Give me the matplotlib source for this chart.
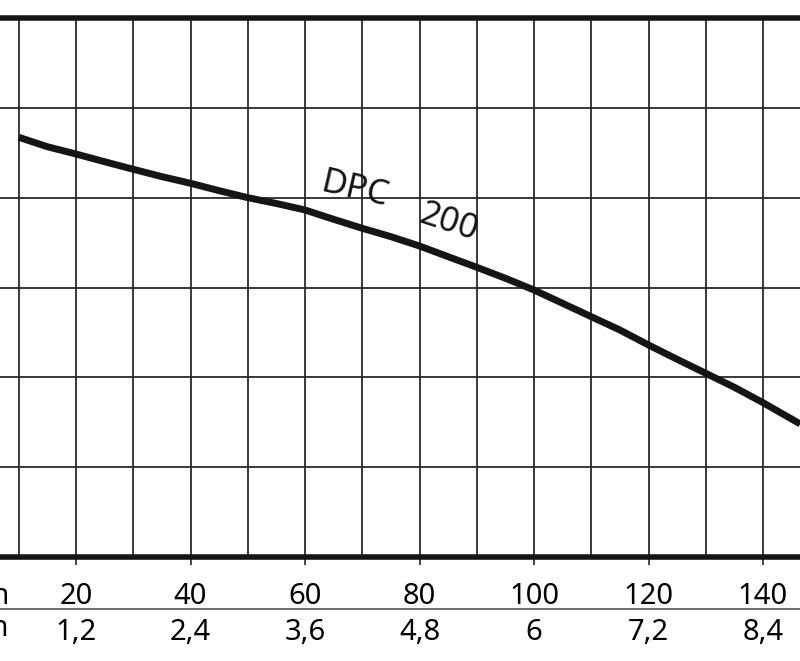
import matplotlib
matplotlib.use("Agg")
import matplotlib.pyplot as plt
from matplotlib.lines import Line2D

# ---- data ----
flow_lpm = [10, 15, 20, 25, 30, 35, 40, 45, 50, 55, 60, 65, 70, 75, 80, 85, 90, 95,
            100, 105, 110, 115, 120, 125, 130, 135, 140, 146.5]
head = [4.672, 4.567, 4.486, 4.400, 4.316, 4.234, 4.160, 4.078, 4.000, 3.935, 3.863,
        3.759, 3.659, 3.566, 3.462, 3.343, 3.225, 3.103, 2.972, 2.824, 2.675, 2.527,
        2.360, 2.201, 2.045, 1.889, 1.718, 1.481]

lpm_ticks = [20, 40, 60, 80, 100, 120, 140]
lpm_labels = ["20", "40", "60", "80", "100", "120", "140"]
m3h_ticks = [1.2, 2.4, 3.6, 4.8, 6.0, 7.2, 8.4]
m3h_labels = ["1,2", "2,4", "3,6", "4,8", "6", "7,2", "8,4"]
grid_x = list(range(10, 150, 10))
grid_y = [1, 2, 3, 4, 5]
curve_name = "DPC"
curve_model = "200"
unit_top = "l/min"
unit_bottom = "m³/h"

plt.rcParams['font.family'] = ['Noto Sans', 'DejaVu Sans']

W, H = 800, 661
fig = plt.figure(figsize=(W / 100, H / 100), dpi=100)
y_top_px, y_bot_px = 18, 557
ax = fig.add_axes([0, (H - y_bot_px) / H, 1, (y_bot_px - y_top_px) / H])

px_per_unit = 5.725
x_left = 20 - 76 / px_per_unit
x_right = 20 + (W - 76) / px_per_unit
ax.set_xlim(x_left, x_right)
ax.set_ylim(0, 6)

gc = "#2a2a2a"
for gx in grid_x:
    ax.axvline(gx, color=gc, lw=1.3, zorder=1)
for gy in grid_y:
    ax.axhline(gy, color=gc, lw=1.3, zorder=1)

ax.plot(flow_lpm, head, color="#151515", lw=5.0, solid_capstyle="butt",
        solid_joinstyle="round", zorder=3)

ax.text(68.7, 4.09, curve_name, fontsize=25, rotation=-13, ha="center", va="center",
        color="#151515", zorder=4)
ax.text(85.0, 3.72, curve_model, fontsize=25, rotation=-18, ha="center", va="center",
        color="#151515", zorder=4)

for s in ["left", "right"]:
    ax.spines[s].set_visible(False)
for s in ["top", "bottom"]:
    ax.spines[s].set_linewidth(4.0)
    ax.spines[s].set_color("#151515")

ax.set_yticks([])
ax.set_xticks(lpm_ticks)
ax.set_xticklabels(lpm_labels, fontsize=21)
ax.tick_params(axis="x", direction="out", length=6, width=1.2, color=gc, pad=12)

sec = ax.secondary_xaxis("bottom", functions=(lambda x: x * 0.06, lambda x: x / 0.06))
sec.set_xticks(m3h_ticks)
sec.set_xticklabels(m3h_labels, fontsize=21)
sec.tick_params(axis="x", length=0, pad=44)
sec.spines["bottom"].set_visible(False)

# separator line between the two scale rows
yl = (H - 609) / H
fig.add_artist(Line2D([0, 1], [yl, yl], transform=fig.transFigure, color="#555555", lw=1.2))

fig.text(10 / W, 1 - 597 / H, unit_top, fontsize=21, ha="right", va="center")
fig.text(9 / W, 1 - 628 / H, unit_bottom, fontsize=21, ha="right", va="center")

fig.savefig("out.png", dpi=100, facecolor="white")
